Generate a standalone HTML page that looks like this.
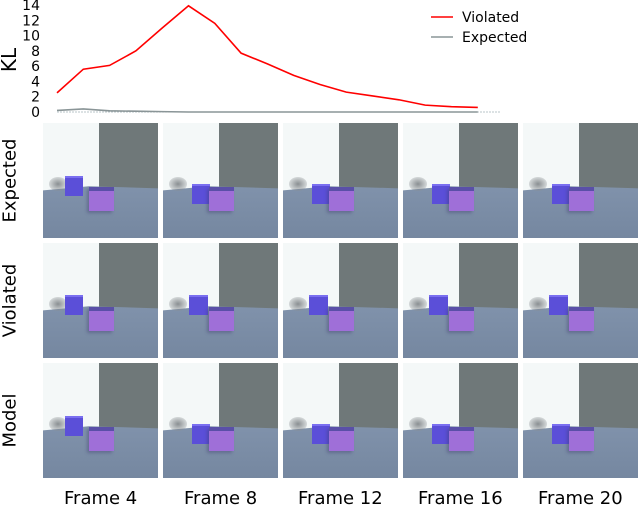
<!DOCTYPE html>
<html><head><meta charset="utf-8"><style>
body{margin:0;width:640px;height:509px;background:#fff;position:relative;overflow:hidden;font-family:"DejaVu Sans","Liberation Sans",sans-serif;}
.tile{position:absolute;width:115px;height:115px;overflow:hidden;background:#f4f8f8;}
.wall{position:absolute;left:49%;top:0;right:0;height:58%;background:#6f7879;}
.floor{position:absolute;left:0;right:0;top:55%;bottom:0;background:linear-gradient(#8092ab,#7587a0);clip-path:polygon(0 8%,40% 0,100% 4%,100% 100%,0 100%);}
.shadow{position:absolute;left:5%;top:47%;width:16%;height:12%;border-radius:50%;background:radial-gradient(#8a8f92,rgba(200,205,205,0));}
.sc{position:absolute;width:16%;height:16%;background:#5b4fd8;border-top:2px solid #7a6ff0;}
.bc{position:absolute;width:22%;height:17%;left:40%;top:56%;background:#9f6fd8;border-top:4px solid #5a4fa8;box-shadow:-2px 2px 3px rgba(60,60,110,0.4);}
.lbl{position:absolute;font-size:18px;color:#000;}
.rl{position:absolute;font-size:18px;transform:rotate(-90deg);transform-origin:center;width:120px;text-align:center;}
</style></head><body>
<svg width="640" height="120" style="position:absolute;left:0;top:0" id="chart"></svg>
<div id="grid"></div>
<div class="rl" style="left:-50px;top:170px">Expected</div>
<div class="rl" style="left:-50px;top:290px">Violated</div>
<div class="rl" style="left:-50px;top:410px">Model</div>
<div class="lbl" style="left:64px;top:488px">Frame 4</div>
<div class="lbl" style="left:184px;top:488px">Frame 8</div>
<div class="lbl" style="left:298px;top:488px">Frame 12</div>
<div class="lbl" style="left:418px;top:488px">Frame 16</div>
<div class="lbl" style="left:538px;top:488px">Frame 20</div>
<script>
const violated=[2.5,5.6,6.1,8.0,11.0,13.9,11.6,7.7,6.3,4.8,3.6,2.6,2.1,1.6,0.9,0.7,0.6];
const expected=[0.2,0.4,0.15,0.1,0.05,0,0,0,0,0,0,0,0,0,0,0,0];
const yTicks=[0,2,4,6,8,10,12,14];
const NS="http://www.w3.org/2000/svg";
const svg=document.getElementById('chart');
const xs=i=>57+i*26.3;
const ys=v=>112-v*7.64;
function mk(t,a){const e=document.createElementNS(NS,t);for(const k in a)e.setAttribute(k,a[k]);svg.appendChild(e);return e;}
yTicks.forEach(t=>{const e=mk('text',{x:40,y:ys(t)+5,'text-anchor':'end','font-size':'14','font-family':'DejaVu Sans, sans-serif'});e.textContent=t;

});
const yl=mk('text',{x:16,y:60,'font-size':'20','text-anchor':'middle',transform:'rotate(-90 16 60)','font-family':'DejaVu Sans, sans-serif'});yl.textContent='KL';


const zl=mk('line',{x1:57,x2:500,y1:112,y2:112,stroke:'#b8c4c8','stroke-dasharray':'2,1'});


const pe=mk('polyline',{points:expected.map((v,i)=>xs(i)+','+ys(v)).join(' '),fill:'none',stroke:'#8a9597','stroke-width':'1.6'});


const pv=mk('polyline',{points:violated.map((v,i)=>xs(i)+','+ys(v)).join(' '),fill:'none',stroke:'#ff0000','stroke-width':'1.6'});


const l1=mk('line',{x1:431,x2:453,y1:17,y2:17,stroke:'#ff0000','stroke-width':'1.6'});


const t1=mk('text',{x:462,y:22,'font-size':'14','font-family':'DejaVu Sans, sans-serif'});t1.textContent='Violated';


const l2=mk('line',{x1:431,x2:453,y1:37,y2:37,stroke:'#8a9597','stroke-width':'1.6'});


const t2=mk('text',{x:462,y:42,'font-size':'14','font-family':'DejaVu Sans, sans-serif'});t2.textContent='Expected';


const grid=document.getElementById('grid');
const rows=['expected','violated','model'];
for(let r=0;r<3;r++)for(let c=0;c<5;c++){
 const t=document.createElement('div');t.className='tile';
 t.style.left=(43+c*120)+'px';t.style.top=(123+r*120)+'px';
 
 
 const first=c===0;const high=first||r===1;
 const sx=first?19:(r===1?23:25), sy=high?(first&&r!==1?46:45):53;
 t.innerHTML='<div class="wall"></div><div class="floor"></div><div class="shadow"></div>'+
 '<div class="sc" style="left:'+sx+'%;top:'+sy+'%"></div><div class="bc"></div>';
 grid.appendChild(t);
}
</script>
</body></html>
